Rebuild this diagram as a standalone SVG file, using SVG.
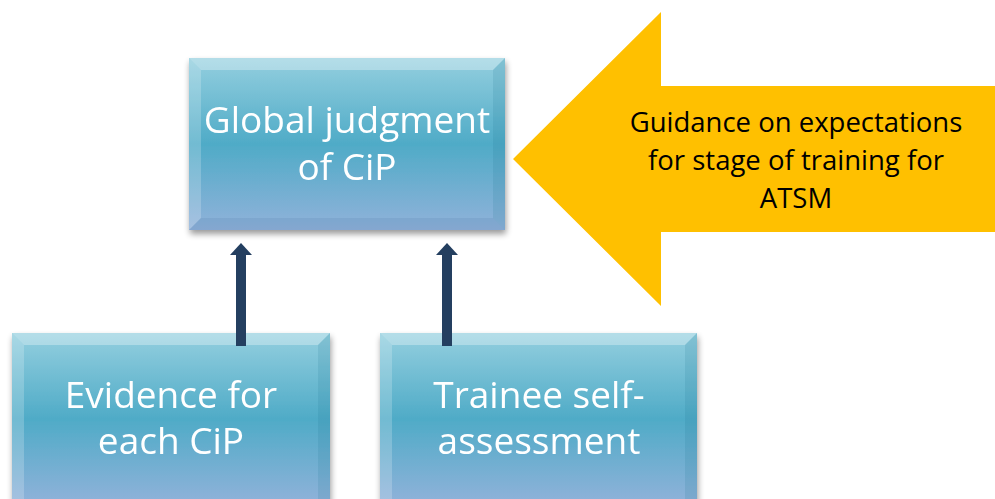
<svg xmlns="http://www.w3.org/2000/svg" width="995" height="499" viewBox="0 0 995 499">
<style>
.box{fill:url(#bg)}
.bevT{fill:#ffffff;opacity:0.3}
.bevL{fill:#ffffff;opacity:0.2}
.bevR{fill:#1c6f8f;opacity:0.14}
.bevB{fill:#1c4f7f;opacity:0.1}
.wt{font-family:"Open Sans","Liberation Sans",sans-serif;fill:#ffffff;text-anchor:middle;font-size:37px}
.bt{font-family:"Open Sans","Liberation Sans",sans-serif;fill:#000000;text-anchor:middle;font-size:27.5px}
.conn{stroke:#243f60;stroke-width:10;fill:none}
</style>
<defs>
<linearGradient id="bg" x1="0" y1="0" x2="0" y2="1">
<stop offset="0" stop-color="#94cfdf"/>
<stop offset="0.5" stop-color="#4fabc7"/>
<stop offset="1" stop-color="#91b2da"/>
</linearGradient>
<linearGradient id="bg2" x1="0" x2="0" gradientUnits="userSpaceOnUse" y1="333" y2="505">
<stop offset="0" stop-color="#94cfdf"/>
<stop offset="0.5" stop-color="#4fabc7"/>
<stop offset="1" stop-color="#91b2da"/>
</linearGradient>
<filter id="sh" x="-10%" y="-10%" width="120%" height="125%">
<feGaussianBlur in="SourceAlpha" stdDeviation="3"/>
<feOffset dx="1" dy="4"/>
<feComponentTransfer><feFuncA type="linear" slope="0.4"/></feComponentTransfer>
<feMerge><feMergeNode/><feMergeNode in="SourceGraphic"/></feMerge>
</filter>
<marker id="ah" viewBox="0 0 22 12" refX="11" refY="12" markerWidth="22" markerHeight="12" markerUnits="userSpaceOnUse" orient="0">
<path d="M0,12 L11,0 L22,12 Z" fill="#243f60"/>
</marker>
</defs>
<rect width="995" height="499" fill="#ffffff"/>

<g id="guidance">
<polygon points="513,159 661,12 661,86 995,86 995,232 661,232 661,306" fill="#ffc000"/>
<text class="bt" x="796" y="132">Guidance on expectations</text>
<text class="bt" x="796" y="170">for stage of training for</text>
<text class="bt" x="796" y="208">ATSM</text>
</g>

<g id="global" filter="url(#sh)">
<rect class="box" x="189" y="58" width="316" height="172"/>
<polygon class="bevT" points="189,58 505,58 493,70 201,70"/>
<polygon class="bevL" points="189,58 201,70 201,218 189,230"/>
<polygon class="bevR" points="505,58 505,230 493,218 493,70"/>
<polygon class="bevB" points="189,230 505,230 493,218 201,218"/>
<text class="wt" x="347" y="133">Global judgment</text>
<text class="wt" x="347" y="180">of CiP</text>
</g>

<g id="evidence" filter="url(#sh)">
<rect x="12" y="333" width="318" height="175" fill="url(#bg2)"/>
<polygon class="bevT" points="12,333 330,333 318,345 24,345"/>
<polygon class="bevL" points="12,333 24,345 24,508 12,508"/>
<polygon class="bevR" points="330,333 330,508 318,508 318,345"/>
<text class="wt" x="171" y="408">Evidence for</text>
<text class="wt" x="171" y="454">each CiP</text>
</g>

<g id="selfassessment" filter="url(#sh)">
<rect x="380" y="333" width="317" height="175" fill="url(#bg2)"/>
<polygon class="bevT" points="380,333 697,333 685,345 392,345"/>
<polygon class="bevL" points="380,333 392,345 392,508 380,508"/>
<polygon class="bevR" points="697,333 697,508 685,508 685,345"/>
<text class="wt" x="539" y="408">Trainee self-</text>
<text class="wt" x="539" y="454">assessment</text>
</g>

<g id="connectors">
<line class="conn" x1="241" y1="346" x2="241" y2="255" marker-end="url(#ah)"/>
<line class="conn" x1="447" y1="346" x2="447" y2="255" marker-end="url(#ah)"/>
</g>
</svg>
